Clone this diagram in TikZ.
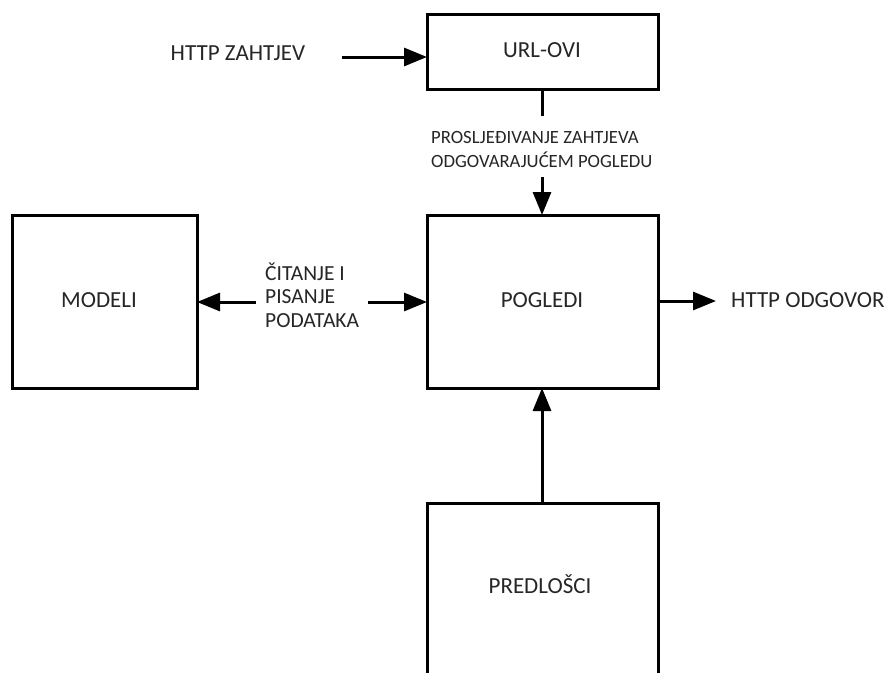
\documentclass[tikz,border=0pt]{standalone}
\usepackage{fontspec}
\setmainfont{Carlito}
\usetikzlibrary{arrows.meta}
\begin{document}
\begin{tikzpicture}[x=1pt,y=-1pt,
  box/.style={draw=black,line width=3pt,fill=white},
  lbl/.style={font=\fontsize{23}{28}\selectfont,text=black!85,inner sep=0pt,anchor=base},
  small/.style={font=\fontsize{18.7}{24}\selectfont,text=black!85,inner sep=0pt,align=left},
  conn/.style={line width=3pt,-{Triangle[length=23pt,width=18pt]}},
  plain/.style={line width=3pt}]
\useasboundingbox (0,0) rectangle (888,672);
\clip (0,0) rectangle (888,672);
\fill[white] (0,0) rectangle (888,672);
% boxes
\draw[box] (427,14) rectangle (658,89);
\node[lbl] (url) at (542,57) {URL-OVI};
\coordinate (urlS) at (542,89);
\coordinate (urlW) at (427,57);
\draw[box] (427,215) rectangle (658,388);
\node[lbl] (pog) at (542,307) {POGLEDI};
\coordinate (pogN) at (542,215);
\coordinate (pogS) at (542,388);
\coordinate (pogW) at (427,302);
\coordinate (pogE) at (658,301);
\draw[box] (12,215) rectangle (197,388);
\node[lbl] (mod) at (99,307) {MODELI};
\coordinate (modE) at (197,302);
\draw[box] (427,503) rectangle (658,690);
\node[lbl] (pre) at (540,593) {PREDLOŠCI};
\coordinate (preN) at (542,503);
% free labels
\node[lbl] (req) at (238,60) {HTTP ZAHTJEV};
\node[lbl,anchor=base west] (resp) at (731,307) {HTTP ODGOVOR};
\node[small,anchor=base west] (fwd) at (431,167) {PROSLJEĐIVANJE ZAHTJEVA\\ODGOVARAJUĆEM POGLEDU};
\node[lbl,anchor=base west,align=left,font=\fontsize{21.5}{23.5}\selectfont] (rw) at (265,327) {ČITANJE I\\PISANJE\\PODATAKA};
% connectors
\coordinate (reqE) at (342,57);
\draw[conn] (reqE) -- (urlW);
\coordinate (fwdA) at (542,116);
\coordinate (fwdB) at (542,177);
\draw[plain] (urlS) -- (fwdA);
\draw[conn] (fwdB) -- (pogN);
\coordinate (rwL) at (256,302);
\coordinate (rwR) at (368,302);
\draw[conn] (rwL) -- (modE);
\draw[conn] (rwR) -- (pogW);
\coordinate (respW) at (716,301);
\draw[conn] (pogE) -- (respW);
\draw[conn] (preN) -- (pogS);
\end{tikzpicture}
\end{document}
